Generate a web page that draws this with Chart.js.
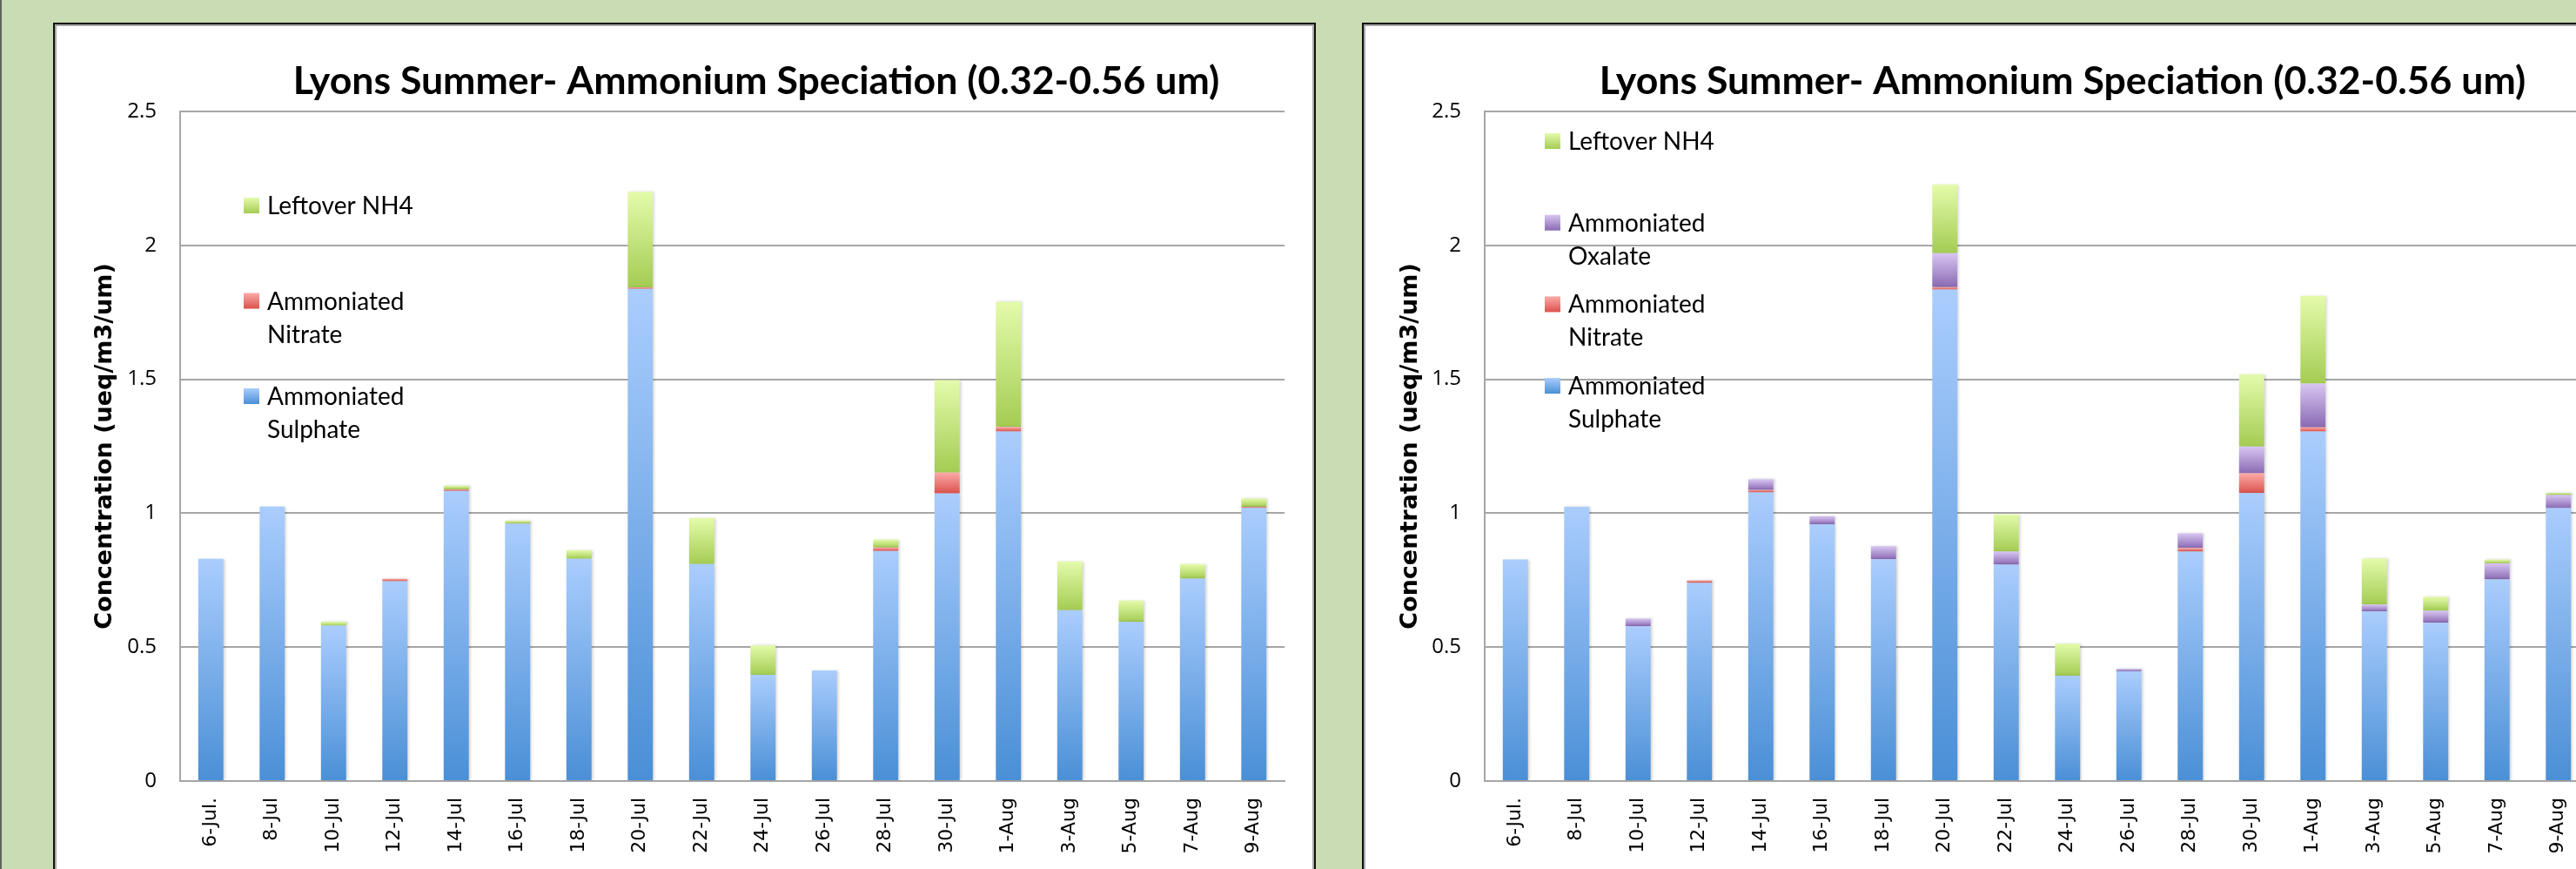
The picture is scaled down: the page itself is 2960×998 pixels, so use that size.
<!DOCTYPE html>
<html><head><meta charset="utf-8">
<script src="https://cdn.jsdelivr.net/npm/chart.js@4.4.1/dist/chart.umd.min.js"></script>
<style>
html,body{margin:0;padding:0;width:2960px;height:998px;overflow:hidden;background:#c9dcb4;}
.edge{position:absolute;left:0;top:0;width:2px;height:998px;background:#5f665a;}
.panel{position:absolute;top:26px;width:1451px;height:1010px;background:#fff;border:2px solid #111;box-sizing:border-box;box-shadow:inset 0 0 0 2px #a9a9a9;}
.panel canvas{position:absolute;left:0;top:0;}
</style></head><body>
<div class="edge"></div>
<div class="panel" style="left:61px"><canvas id="c1" width="1447" height="970"></canvas></div>
<div class="panel" style="left:1565px"><canvas id="c2" width="1447" height="970"></canvas></div>
<script>
// ---------- data ----------
const categories = ['6-Jul.','8-Jul','10-Jul','12-Jul','14-Jul','16-Jul','18-Jul','20-Jul','22-Jul','24-Jul','26-Jul','28-Jul','30-Jul','1-Aug','3-Aug','5-Aug','7-Aug','9-Aug'];
const yTickValues = [0, 0.5, 1, 1.5, 2, 2.5];
const chartTitle = 'Lyons Summer- Ammonium Speciation (0.32-0.56 um)';
const yAxisTitle = 'Concentration (ueq/m3/um)';
const seriesNames = ['Ammoniated Sulphate', 'Ammoniated Nitrate', 'Ammoniated Oxalate', 'Leftover NH4'];

// left chart
const sulphateA = [0.830, 1.025, 0.580, 0.746, 1.083, 0.961, 0.830, 1.838, 0.810, 0.397, 0.413, 0.859, 1.074, 1.305, 0.638, 0.594, 0.756, 1.020];
const nitrateA  = [0, 0, 0, 0.009, 0.006, 0, 0, 0.005, 0, 0, 0, 0.013, 0.078, 0.017, 0, 0, 0, 0.004];
const leftoverA = [0, 0, 0.015, 0, 0.014, 0.011, 0.032, 0.357, 0.172, 0.109, 0, 0.030, 0.345, 0.468, 0.182, 0.080, 0.054, 0.031];

// right chart
const sulphateB = [0.827, 1.024, 0.578, 0.740, 1.078, 0.958, 0.828, 1.835, 0.808, 0.393, 0.410, 0.857, 1.075, 1.305, 0.633, 0.591, 0.753, 1.019];
const nitrateB  = [0, 0, 0, 0.009, 0.009, 0, 0, 0.009, 0, 0, 0, 0.013, 0.074, 0.016, 0, 0, 0, 0];
const oxalateB  = [0, 0, 0.029, 0, 0.040, 0.031, 0.049, 0.127, 0.049, 0, 0.009, 0.055, 0.100, 0.163, 0.026, 0.045, 0.060, 0.049];
const leftoverB = [0, 0, 0, 0, 0, 0, 0, 0.256, 0.139, 0.120, 0, 0, 0.270, 0.328, 0.172, 0.052, 0.014, 0.008];

// ---------- styles ----------
const gradColors = {
  'Ammoniated Sulphate': ['#aacdfd', '#4a8fd6'],
  'Ammoniated Nitrate':  ['#fcaba9', '#db514c'],
  'Ammoniated Oxalate':  ['#d8c6f2', '#8a6ab3'],
  'Leftover NH4':        ['#e4fbab', '#a4cc53']
};
const gridColor = '#a6a6a6';

function barGradient(ctx) {
  const chart = ctx.chart;
  const ds = chart.data.datasets[ctx.datasetIndex];
  const cols = gradColors[ds.label];
  if (ctx.type !== 'data' || !chart.chartArea || !chart.scales.y) return cols[1];
  const i = ctx.dataIndex;
  let base = 0;
  for (let k = 0; k < ctx.datasetIndex; k++) base += chart.data.datasets[k].data[i] || 0;
  const top = base + (ds.data[i] || 0);
  const y0 = chart.scales.y.getPixelForValue(top);
  const y1 = chart.scales.y.getPixelForValue(base);
  if (Math.abs(y1 - y0) < 0.5) return cols[1];
  const g = chart.ctx.createLinearGradient(0, y0, 0, y1);
  g.addColorStop(0, cols[0]);
  g.addColorStop(1, cols[1]);
  return g;
}

const decorPlugin = {
  id: 'decor',
  beforeDatasetsDraw(chart) {
    const c = chart.ctx;
    c.save();
    c.shadowColor = 'rgba(0,0,0,0.18)';
    c.shadowOffsetX = 2;
    c.shadowOffsetY = 0;
    c.shadowBlur = 3;
  },
  afterDatasetsDraw(chart) { chart.ctx.restore(); },
  afterDraw(chart) {
    const o = chart.options.plugins.decor;
    const c = chart.ctx;
    // title
    c.save();
    c.fillStyle = '#000';
    c.textAlign = 'center';
    c.textBaseline = 'alphabetic';
    c.font = 'bold 40px Lato';
    const w = c.measureText(chartTitle).width;
    const size = 40 * o.titleWidth / w;
    c.font = 'bold ' + size.toFixed(2) + 'px Lato';
    c.fillText(chartTitle, o.titleX, o.titleY);
    // legend (reverse order)
    const dss = chart.data.datasets.slice().reverse();
    c.textAlign = 'left';
    c.font = '28px Lato';
    dss.forEach((ds, k) => {
      const cy = o.legY + k * o.legStep;
      const cols = gradColors[ds.label];
      const g = c.createLinearGradient(0, cy - 9, 0, cy + 9);
      g.addColorStop(0, cols[0]); g.addColorStop(1, cols[1]);
      c.fillStyle = g;
      c.fillRect(o.legX, cy - 9, 18, 18);
      c.fillStyle = '#000';
      const lines = ds.label.startsWith('Ammoniated ') ? ['Ammoniated', ds.label.slice(11)] : [ds.label];
      lines.forEach((ln, j) => c.fillText(ln, o.legX + 27, cy + 10 + j * 38));
    });
    c.restore();
  }
};

function makeChart(id, datasets, lay) {
  return new Chart(document.getElementById(id), {
    type: 'bar',
    data: {
      labels: categories,
      datasets: datasets.map(d => ({
        label: d.name,
        data: d.values,
        backgroundColor: barGradient,
        borderWidth: 0,
        categoryPercentage: 1,
        barPercentage: 0.41
      }))
    },
    options: {
      responsive: false,
      animation: false,
      events: [],
      layout: { padding: { left: 0, right: lay.padRight, top: lay.top, bottom: 0 } },
      plugins: {
        legend: { display: false },
        title: { display: false },
        tooltip: { enabled: false },
        decor: lay
      },
      scales: {
        x: {
          stacked: true,
          grid: { display: false, drawTicks: false },
          border: { display: true, color: gridColor, width: 2 },
          ticks: {
            autoSkip: false, minRotation: 90, maxRotation: 90, padding: 19,
            color: '#000', font: { family: 'DejaVu Sans', size: 22 }
          },
          afterFit(s) { s.height = lay.xHeight; }
        },
        y: {
          stacked: true,
          min: 0, max: 2.5,
          afterBuildTicks(s) { s.ticks = yTickValues.map(v => ({ value: v })); },
          grid: { color: gridColor, lineWidth: 2, drawTicks: false },
          border: { display: true, color: gridColor, width: 2 },
          ticks: {
            padding: 27, color: '#000',
            font: { family: 'Open Sans', size: 24 },
            callback: v => String(v)
          },
          title: {
            display: true, text: yAxisTitle, color: '#000',
            font: { family: 'DejaVu Sans', size: 27, weight: 'bold', lineHeight: 1 },
            padding: { top: lay.yTitlePad, bottom: 0 }
          },
          afterFit(s) { s.width = lay.yWidth; }
        }
      }
    },
    plugins: [decorPlugin]
  });
}

makeChart('c1', [
  { name: seriesNames[0], values: sulphateA },
  { name: seriesNames[1], values: nitrateA },
  { name: seriesNames[3], values: leftoverA }
], { top: 100, padRight: 34, xHeight: 101, yWidth: 144, yTitlePad: 44,
     titleX: 806, titleY: 80, titleWidth: 1065,
     legX: 217, legY: 208, legStep: 109.5 });

makeChart('c2', [
  { name: seriesNames[0], values: sulphateB },
  { name: seriesNames[1], values: nitrateB },
  { name: seriesNames[2], values: oxalateB },
  { name: seriesNames[3], values: leftoverB }
], { top: 100, padRight: 39, xHeight: 101, yWidth: 139, yTitlePad: 40,
     titleX: 803, titleY: 80, titleWidth: 1065,
     legX: 208, legY: 134, legStep: 93.7 });
</script>
</body></html>
